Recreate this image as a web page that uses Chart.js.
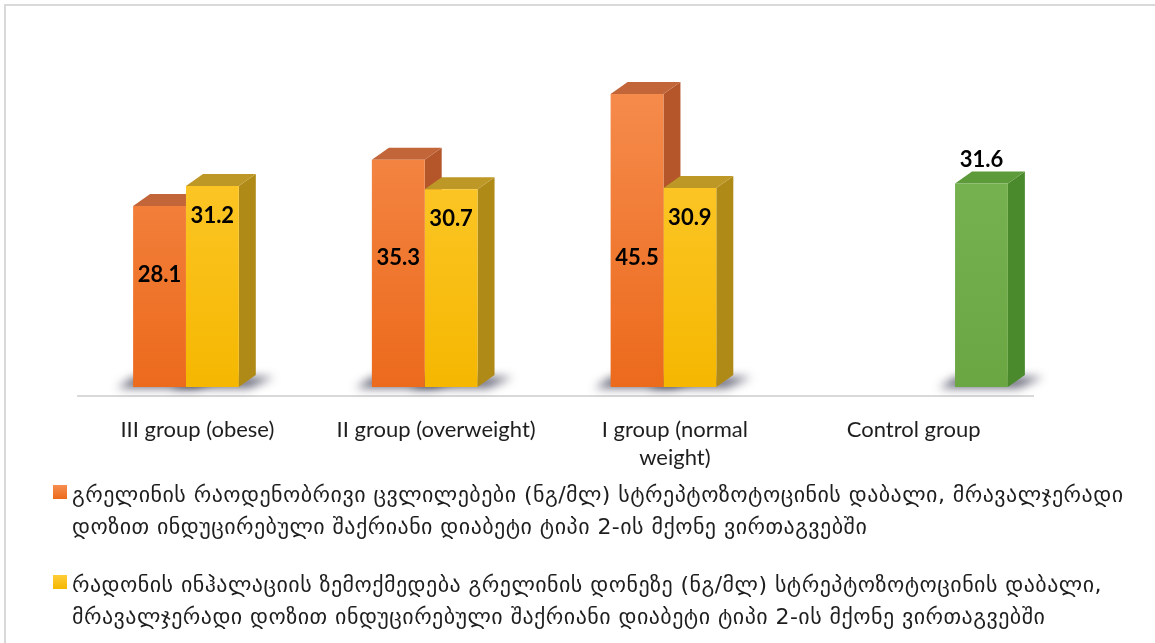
<!DOCTYPE html>
<html>
<head>
<meta charset="utf-8">
<script src="https://cdn.jsdelivr.net/npm/chart.js@4.4.1/dist/chart.umd.min.js"></script>
<style>
html,body{margin:0;padding:0;background:#fff;width:1155px;height:643px;overflow:hidden;}
#wrap{position:relative;width:1155px;height:643px;}
#frame{position:absolute;left:4px;top:4px;width:1300px;height:800px;border-left:2px solid #d9d9d9;border-top:2px solid #d9d9d9;}
#chart{position:absolute;left:0;top:0;}
#legend{position:absolute;left:53px;top:479px;font-family:"DejaVu Sans";font-size:22px;letter-spacing:0.45px;color:#1e1e1e;}
.item{display:flex;align-items:flex-start;margin-bottom:26px;}
.sw{width:14px;height:14px;flex:none;margin-top:6px;margin-right:5px;}
.txt{width:1080px;line-height:32px;}
</style>
</head>
<body>
<div id="wrap">
  <div id="frame"></div>
  <canvas id="chart" width="1155" height="643"></canvas>
  <div id="legend"></div>
</div>
<script>
// ---- data ----
const categories = ['III group (obese)', 'II group (overweight)', ['I group (normal', 'weight)'], 'Control group'];
const ghrelinValues = [28.1, 35.3, 45.5, null];
const radonValues = [31.2, 30.7, 30.9, null];
const controlValues = [null, null, null, 31.6];
const seriesLabels = [
  'გრელინის რაოდენობრივი ცვლილებები (ნგ/მლ) სტრეპტოზოტოცინის დაბალი, მრავალჯერადი დოზით ინდუცირებული შაქრიანი დიაბეტი ტიპი 2-ის მქონე ვირთაგვებში',
  'რადონის ინჰალაციის ზემოქმედება გრელინის დონეზე (ნგ/მლ) სტრეპტოზოტოცინის დაბალი, მრავალჯერადი დოზით ინდუცირებული შაქრიანი დიაბეტი ტიპი 2-ის მქონე ვირთაგვებში',
  'Control group'
];

// ---- styles ----
const frontTop = ['#F68E50', '#FFCD3A', '#7DB858'];
const frontBottom = ['#EC6A1C', '#F5B700', '#6AA642'];
const sideColors = ['#B5552A', '#B08A16', '#4B8A2C'];
const topColors = ['#C2663A', '#BE9826', '#5C9A3A'];
const DX = 17, DY = -12, SHIFT_X = 15, SHIFT_Y = -9;

function vgrad(i) {
  return (c) => {
    const ch = c.chart, a = ch.chartArea;
    if (!a) return frontBottom[i];
    const g = ch.ctx.createLinearGradient(0, a.top, 0, a.bottom);
    g.addColorStop(0, frontTop[i]);
    g.addColorStop(1, frontBottom[i]);
    return g;
  };
}

function eachBar(chart, fn) {
  chart.data.datasets.forEach((ds, i) => {
    const meta = chart.getDatasetMeta(i);
    meta.data.forEach((bar, j) => {
      if (ds.data[j] == null) return;
      const p = bar.getProps(['x', 'y', 'width', 'base'], true);
      fn(i, j, p, ds.data[j]);
    });
  });
}

const bar3d = {
  id: 'bar3d',
  beforeDatasetsDraw(chart) {
    const ctx = chart.ctx;
    ctx.save();
    ctx.translate(SHIFT_X, SHIFT_Y);
    // floor shadows
    ctx.save();
    ctx.filter = 'blur(5px)';
    eachBar(chart, (i, j, p) => {
      const l = p.x - p.width / 2, r = p.x + p.width / 2, b = p.base;
      ctx.fillStyle = 'rgba(40,40,65,0.7)';
      ctx.beginPath();
      ctx.moveTo(l - 16, b + 1);
      ctx.lineTo(r + 10, b + 1);
      ctx.lineTo(r + DX + 18, b + DY + 2);
      ctx.lineTo(l + DX - 16, b + DY + 2);
      ctx.closePath();
      ctx.fill();
    });
    ctx.restore();
    // side and top faces
    eachBar(chart, (i, j, p) => {
      const l = p.x - p.width / 2, r = p.x + p.width / 2, y = p.y, b = p.base;
      ctx.fillStyle = sideColors[i];
      ctx.beginPath();
      ctx.moveTo(r, y); ctx.lineTo(r + DX, y + DY); ctx.lineTo(r + DX, b + DY); ctx.lineTo(r, b);
      ctx.closePath(); ctx.fill();
      ctx.fillStyle = topColors[i];
      ctx.beginPath();
      ctx.moveTo(l, y); ctx.lineTo(l + DX, y + DY); ctx.lineTo(r + DX, y + DY); ctx.lineTo(r, y);
      ctx.closePath(); ctx.fill();
    });
  },
  afterDatasetsDraw(chart) {
    const ctx = chart.ctx, ys = chart.scales.y;
    ctx.font = 'bold 22px Lato';
    ctx.fillStyle = '#000';
    ctx.textAlign = 'center';
    ctx.textBaseline = 'middle';
    eachBar(chart, (i, j, p, v) => {
      let ty;
      if (i === 0) ty = ys.getPixelForValue(Math.min(v * 0.62, 20));
      else if (i === 1) ty = p.y + 30;
      else ty = p.y - 24;
      ctx.fillText(v.toFixed(1), p.x, ty);
    });
    ctx.restore();
  }
};

const valueSets = [ghrelinValues, radonValues, controlValues];
const chart = new Chart(document.getElementById('chart'), {
  type: 'bar',
  data: {
    labels: categories,
    datasets: valueSets.map((vals, i) => ({
      label: seriesLabels[i],
      data: vals,
      backgroundColor: vgrad(i),
      borderWidth: 0,
      barPercentage: 1,
      categoryPercentage: 0.664,
      clip: false
    }))
  },
  options: {
    responsive: false,
    animation: false,
    layout: { padding: { top: 74, left: 78, right: 122, bottom: 0 } },
    plugins: { legend: { display: false }, tooltip: { enabled: false } },
    scales: {
      x: {
        grid: { display: false, drawTicks: false },
        border: { display: true, color: '#d9d9d9', width: 2 },
        ticks: {
          font: { family: 'Lato', size: 22, lineHeight: 1.27 },
          color: '#1e1e1e', padding: 20, maxRotation: 0, autoSkip: false
        },
        afterFit(s) { s.height = 247; }
      },
      y: { display: false, min: 0, max: 50 }
    }
  },
  plugins: [bar3d]
});

// ---- HTML legend (first two series) ----
const legend = document.getElementById('legend');
[0, 1].forEach(i => {
  const item = document.createElement('div');
  item.className = 'item';
  const sw = document.createElement('span');
  sw.className = 'sw';
  sw.style.background = 'linear-gradient(' + frontTop[i] + ',' + frontBottom[i] + ')';
  const tx = document.createElement('span');
  tx.className = 'txt';
  tx.textContent = seriesLabels[i];
  item.appendChild(sw); item.appendChild(tx);
  legend.appendChild(item);
});
</script>
</body>
</html>
